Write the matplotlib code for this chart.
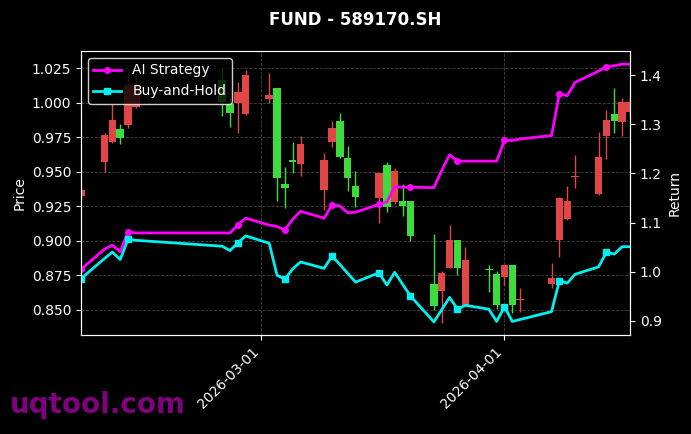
import matplotlib
matplotlib.use("Agg")

import numpy as np
import pandas as pd
import matplotlib.pyplot as plt
import matplotlib.dates as mdates
from matplotlib.ticker import MultipleLocator

# Trading days shown in the chart
dates = [
    "2026-02-06", "2026-02-09", "2026-02-10", "2026-02-11", "2026-02-12", "2026-02-13",
    "2026-02-24", "2026-02-25", "2026-02-26", "2026-02-27",
    "2026-03-02", "2026-03-03", "2026-03-04", "2026-03-05", "2026-03-06",
    "2026-03-09", "2026-03-10", "2026-03-11", "2026-03-12", "2026-03-13",
    "2026-03-16", "2026-03-17", "2026-03-18", "2026-03-19", "2026-03-20",
    "2026-03-23", "2026-03-24", "2026-03-25", "2026-03-26", "2026-03-27",
    "2026-03-30", "2026-03-31", "2026-04-01", "2026-04-02", "2026-04-03",
    "2026-04-07", "2026-04-08", "2026-04-09", "2026-04-10",
    "2026-04-13", "2026-04-14", "2026-04-15", "2026-04-16", "2026-04-17",
]

open_px = [
    0.9327, 0.9573, 0.9715, 0.9807, 0.9838, 0.9970,
    1.0163, 0.9990, 0.9995, 0.9917,
    1.0024, 1.0103, 0.9409, 0.9582, 0.9554,
    0.9368, 0.9717, 0.9867, 0.9601, 0.9397,
    0.9312, 0.9549, 0.9284, 0.9288, 0.9288,
    0.8686, 0.8637, 0.8802, 0.9007, 0.8530,
    0.8797, 0.8758, 0.8735, 0.8826, 0.8570,
    0.8686, 0.9007, 0.9158, 0.9460,
    0.9337, 0.9760, 0.9915, 0.9862, 0.9930,
]
close_px = [
    0.9367, 0.9766, 0.9874, 0.9746, 1.0127, 1.0120,
    1.0006, 0.9927, 1.0079, 1.0199,
    1.0055, 0.9453, 0.9380, 0.9570, 0.9700,
    0.9584, 0.9818, 0.9609, 0.9457, 0.9315,
    0.9493, 0.9243, 0.9505, 0.9252, 0.9037,
    0.8532, 0.8765, 0.9007, 0.8802, 0.8862,
    0.8790, 0.8537, 0.8826, 0.8537, 0.8578,
    0.8728, 0.9308, 0.9288, 0.9466,
    0.9604, 0.9874, 0.9867, 1.0002, 1.0002,
]
high_px = [
    0.9400, 0.9778, 0.9990, 0.9845, 1.0220, 1.0257,
    1.0260, 1.0040, 1.0151, 1.0236,
    1.0212, 1.0103, 0.9537, 0.9717, 0.9760,
    0.9633, 0.9867, 0.9922, 0.9688, 0.9508,
    0.9493, 0.9573, 0.9530, 0.9409, 0.9288,
    0.9047, 0.8782, 0.9115, 0.9007, 0.8958,
    0.8826, 0.8782, 0.8826, 0.8826, 0.8659,
    0.8843, 0.9320, 0.9399, 0.9620,
    0.9785, 0.9946, 1.0108, 1.0035, 1.0050,
]
low_px = [
    0.9300, 0.9500, 0.9705, 0.9700, 0.9816, 0.9960,
    0.9900, 0.9820, 0.9778, 0.9910,
    0.9995, 0.9288, 0.9236, 0.9488, 0.9470,
    0.9220, 0.9681, 0.9597, 0.9363, 0.9248,
    0.9127, 0.9210, 0.9270, 0.9182, 0.8999,
    0.8500, 0.8404, 0.8802, 0.8753, 0.8524,
    0.8633, 0.8510, 0.8681, 0.8477, 0.8488,
    0.8662, 0.8886, 0.9150, 0.9385,
    0.9332, 0.9592, 0.9778, 0.9760, 0.9900,
]

ai_return = [
    1.005, 1.046, 1.054, 1.041, 1.081, 1.079,
    1.079, 1.079, 1.095, 1.109,
    1.095, 1.092, 1.085, 1.107, 1.123,
    1.109, 1.136, 1.134, 1.120, 1.121,
    1.137, 1.142, 1.173, 1.172, 1.172,
    1.171, 1.206, 1.238, 1.225, 1.225,
    1.225, 1.225, 1.267, 1.267, 1.270,
    1.277, 1.362, 1.358, 1.385,
    1.408, 1.417, 1.419, 1.422, 1.422,
]
bh_return = [
    0.986, 1.027, 1.040, 1.025, 1.066, 1.064,
    1.052, 1.043, 1.059, 1.073,
    1.058, 0.993, 0.985, 1.006, 1.020,
    1.007, 1.032, 1.015, 0.997, 0.979,
    0.998, 0.973, 0.999, 0.975, 0.951,
    0.898, 0.923, 0.948, 0.924, 0.932,
    0.924, 0.899, 0.929, 0.899, 0.903,
    0.919, 0.982, 0.977, 0.995,
    1.010, 1.040, 1.036, 1.051, 1.051,
]

x = mdates.date2num(pd.to_datetime(dates))
o = np.array(open_px)
c = np.array(close_px)
h = np.array(high_px)
l = np.array(low_px)

red = "#e24545"
green = "#3ddc3d"
colors = np.where(c >= o, red, green)

fig = plt.figure(figsize=(6.91, 4.34), dpi=100, facecolor="black")
ax = fig.add_axes([0.1172, 0.2281, 0.7945, 0.6544])
ax.set_facecolor("black")

# candles
ax.vlines(x, l, h, colors=colors, linewidth=1, zorder=2)
body = np.maximum(np.abs(c - o), 0.0005)
ax.bar(x, body, bottom=np.minimum(o, c), width=0.95, color=colors, zorder=3)

ax.set_xlim(x[0], x[-1])
ax.set_ylim(0.8319, 1.0373)
ax.yaxis.set_major_locator(MultipleLocator(0.025))
ax.xaxis.set_major_locator(mdates.MonthLocator())
ax.xaxis.set_major_formatter(mdates.DateFormatter("%Y-%m-%d"))
ax.grid(True, color="#555555", linestyle="--", linewidth=0.6, alpha=0.8)
ax.set_ylabel("Price", color="white")
ax.set_title("FUND - 589170.SH", color="white", fontsize=12, fontweight="bold", pad=19)
plt.setp(ax.get_xticklabels(), rotation=45, ha="right")

ax2 = ax.twinx()
ax2.plot(x, ai_return, color="#ff00ff", linewidth=2, marker="o", markersize=4,
         markevery=4, label="AI Strategy")
ax2.plot(x, bh_return, color="#00f0f0", linewidth=2, marker="s", markersize=4,
         markevery=4, label="Buy-and-Hold")
ax2.set_ylim(0.8715, 1.4488)
ax2.yaxis.set_major_locator(MultipleLocator(0.1))
ax2.set_ylabel("Return", color="white")

for a in (ax, ax2):
    a.tick_params(colors="white", labelsize=10)
    for s in a.spines.values():
        s.set_color("white")

leg = ax2.legend(loc="upper left", facecolor="black", edgecolor="white",
                 labelcolor="white", fontsize=10, framealpha=0.8)

fig.text(0.014, 0.048, "uqtool.com", color="purple", fontsize=20,
         fontweight="bold", va="baseline")

fig.savefig("out.png", facecolor="black")
plt.close()
